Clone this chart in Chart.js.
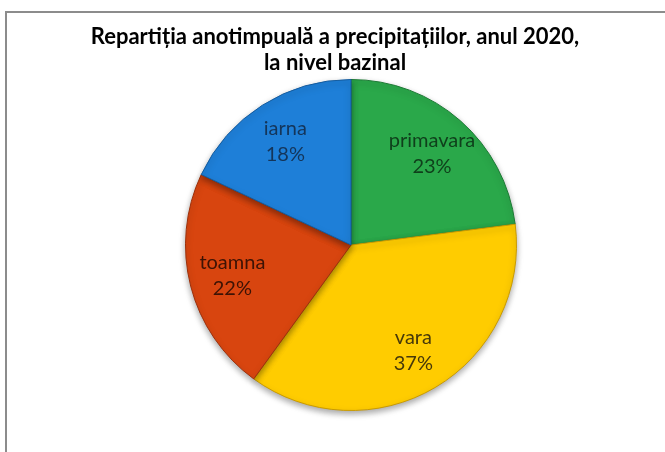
<!DOCTYPE html>
<html>
<head>
<meta charset="utf-8">
<script src="https://cdn.jsdelivr.net/npm/chart.js@4"></script>
<style>
  html, body { margin: 0; padding: 0; background: #fff; overflow: hidden; }
  #wrap { position: relative; width: 665px; height: 452px; }
  #rama { position: absolute; left: 5px; top: 11px; width: 700px; height: 500px; border: 2px solid #8c8c8c; }
  #grafic { position: absolute; left: 0; top: 0; }
</style>
</head>
<body>
<div id="wrap">
  <div id="rama"></div>
  <canvas id="grafic" width="665" height="452"></canvas>
</div>
<script>
// ===== DATE =====
const anotimpuri = ['primavara', 'vara', 'toamna', 'iarna'];
const procente = [23, 37, 22, 18];
const titlu = ['Repartiția anotimpuală a precipitațiilor, anul 2020,', 'la nivel bazinal'];

// ===== CULORI =====
const culori = ['#2aa84a', '#ffcc00', '#d8450f', '#1e7fd8'];
const culoriMargine = ['#1d7a35', '#c99a00', '#9c300a', '#155c9e'];
const culoriText = ['#0f3f1b', '#47390a', '#3d1305', '#14355a'];

// ===== TITLU (text pe doua randuri) =====
const titluPlugin = {
    id: 'titlu',
    afterDraw(chart) {
        const ctx = chart.ctx;
        ctx.save();
        ctx.font = 'bold 22px Lato';
        ctx.fillStyle = '#000';
        ctx.textAlign = 'center';
        ctx.textBaseline = 'middle';
        ctx.fillText(titlu[0], 335, 37);
        ctx.fillText(titlu[1], 335, 63);
        ctx.restore();
    }
};

// ===== UMBRA SUB PLACINTA =====
const umbraPlugin = {
    id: 'umbra',
    beforeDatasetsDraw(chart) {
        const ctx = chart.ctx;
        ctx.save();
        ctx.shadowColor = 'rgba(0,0,0,0.35)';
        ctx.shadowBlur = 6;
        ctx.shadowOffsetY = 3;
    },
    afterDatasetsDraw(chart) {
        chart.ctx.restore();
    }
};

// ===== ETICHETE IN FELII =====
const eticheteFelii = {
    id: 'etichete',
    afterDatasetsDraw(chart) {
        const ctx = chart.ctx;
        const meta = chart.getDatasetMeta(0);
        ctx.save();
        ctx.font = '20px Lato';
        ctx.textAlign = 'center';
        ctx.textBaseline = 'middle';
        meta.data.forEach((arc, i) => {
            const p = arc.getProps(['x', 'y', 'startAngle', 'endAngle', 'outerRadius'], true);
            const mijloc = (p.startAngle + p.endAngle) / 2;
            const r = p.outerRadius * 0.74;
            const x = p.x + Math.cos(mijloc) * r;
            const y = p.y + Math.sin(mijloc) * r;
            ctx.fillStyle = culoriText[i];
            ctx.fillText(anotimpuri[i], x, y - 13);
            ctx.fillText(procente[i] + '%', x, y + 13);
        });
        ctx.restore();
    }
};

new Chart(document.getElementById('grafic').getContext('2d'), {
    type: 'pie',
    data: {
        labels: anotimpuri,
        datasets: [{
            data: procente,
            backgroundColor: culori,
            borderColor: culoriMargine,
            borderWidth: 1
        }]
    },
    options: {
        responsive: false,
        animation: false,
        layout: { padding: { top: 78, bottom: 40, left: 185, right: 148 } },
        plugins: {
            legend: { display: false },
            title: { display: false },
            tooltip: { enabled: false }
        }
    },
    plugins: [umbraPlugin, eticheteFelii, titluPlugin]
});
</script>
</body>
</html>
